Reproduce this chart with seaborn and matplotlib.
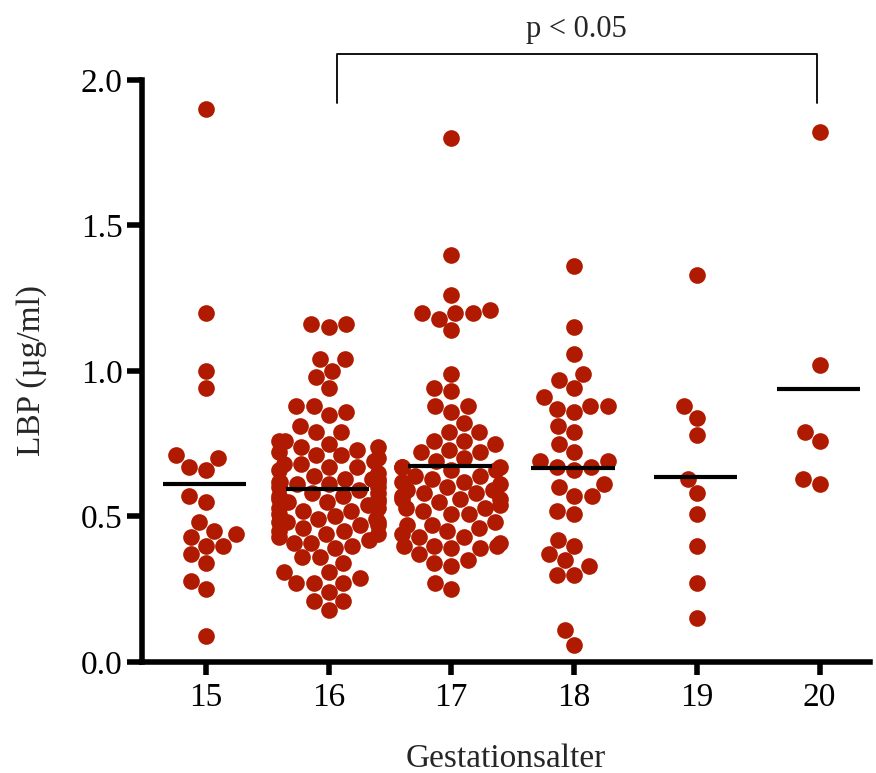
import warnings
import pandas as pd
import numpy as np
import matplotlib
matplotlib.use("Agg")
import matplotlib.pyplot as plt
import seaborn as sns

warnings.filterwarnings("ignore")

# --- Daten ---
WEEKS = ["15", "16", "17", "18", "19", "20"]

lbp_15 = [1.90, 1.20, 1.00, 0.94, 0.70, 0.71, 0.67, 0.66, 0.57, 0.55, 0.48,
          0.45, 0.44, 0.43, 0.40, 0.40, 0.37, 0.34, 0.28, 0.25, 0.09]

lbp_16 = [1.16, 1.15, 1.16, 1.04, 1.04, 1.00, 0.98, 0.94, 0.88, 0.88, 0.86,
          0.85, 0.81, 0.79, 0.76, 0.79, 0.76, 0.75, 0.74, 0.72, 0.71, 0.71,
          0.69, 0.67, 0.67, 0.65, 0.62, 0.62, 0.63, 0.63, 0.60, 0.58, 0.57,
          0.55, 0.55, 0.53, 0.52, 0.51, 0.48, 0.48, 0.49, 0.47, 0.45, 0.44,
          0.44, 0.39, 0.40, 0.41, 0.36, 0.36, 0.34, 0.31, 0.31, 0.29, 0.27,
          0.27, 0.27, 0.24, 0.21, 0.21, 0.18,
          0.74, 0.73, 0.70, 0.68, 0.68, 0.66, 0.64, 0.63, 0.61, 0.61, 0.60,
          0.59, 0.58, 0.57, 0.56, 0.56, 0.54, 0.53, 0.52, 0.50, 0.49, 0.48,
          0.47, 0.46, 0.45, 0.43, 0.42, 0.41, 0.62, 0.55]

lbp_17 = [1.80, 1.40, 1.26, 1.20, 1.20, 1.21, 1.20, 1.18, 1.14, 0.99, 0.94,
          0.93, 0.88, 0.88, 0.86, 0.82, 0.79, 0.79, 0.76, 0.75, 0.73, 0.76,
          0.72, 0.72, 0.67, 0.67, 0.67, 0.64, 0.64, 0.66, 0.66, 0.61, 0.58,
          0.59, 0.57, 0.56, 0.56, 0.56, 0.53, 0.53, 0.52, 0.51, 0.51, 0.48,
          0.47, 0.46, 0.47, 0.45, 0.44, 0.43, 0.43, 0.40, 0.40, 0.41, 0.40,
          0.39, 0.39, 0.37, 0.35, 0.34, 0.33, 0.27, 0.25,
          0.70, 0.69, 0.62, 0.60, 0.59, 0.55, 0.62, 0.58, 0.54, 0.63]

lbp_18 = [1.36, 1.15, 1.06, 0.99, 0.97, 0.94, 0.91, 0.88, 0.88, 0.87, 0.86,
          0.81, 0.79, 0.75, 0.72, 0.69, 0.69, 0.67, 0.67, 0.66, 0.61, 0.60,
          0.57, 0.57, 0.52, 0.51, 0.42, 0.40, 0.37, 0.35, 0.33, 0.30, 0.30,
          0.11, 0.06]

lbp_19 = [1.33, 0.88, 0.84, 0.78, 0.63, 0.58, 0.51, 0.40, 0.27, 0.15]

lbp_20 = [1.82, 1.02, 0.79, 0.76, 0.61, 0.63]

RED = "#B01A00"

groups = [lbp_15, lbp_16, lbp_17, lbp_18, lbp_19, lbp_20]
df = pd.concat(
    [pd.DataFrame({"woche": w, "lbp": vals}) for w, vals in zip(WEEKS, groups)],
    ignore_index=True,
)

sns.set_style("ticks")
plt.rcParams["font.family"] = ["Liberation Serif", "DejaVu Serif"]

fig = plt.figure(figsize=(8.76, 7.73), dpi=100)
ax = fig.add_axes([0.162, 0.1436, 0.831, 0.753])

sns.swarmplot(data=df, x="woche", y="lbp", order=WEEKS, color=RED,
              size=12, linewidth=0, ax=ax, zorder=2)

# Mittelwert-Linien
means = df.groupby("woche")["lbp"].mean().reindex(WEEKS)
for i, m in enumerate(means):
    ax.hlines(m, i - 0.35, i + 0.33, color="black", lw=3, zorder=3)

ax.set_xlim(-0.52, 5.41)
ax.set_ylim(0, 2.0)
ax.set_yticks([0.0, 0.5, 1.0, 1.5, 2.0])
ax.set_yticklabels(["0.0", "0.5", "1.0", "1.5", "2.0"])

sns.despine(ax=ax)
for side in ["left", "bottom"]:
    ax.spines[side].set_linewidth(4)
    ax.spines[side].set_color("black")

ax.tick_params(axis="y", length=11, width=4, pad=3, labelsize=24, colors="black")
ax.tick_params(axis="x", length=9, width=4, pad=6, labelsize=24, colors="black")

ax.set_xlabel("Gestationsalter", fontsize=24, labelpad=22)
ax.set_ylabel("LBP (µg/ml)", fontsize=24, labelpad=24)

# Signifikanz-Klammer 16 vs 20
ax.plot([1.07, 1.07, 4.98, 4.98], [1.92, 2.09, 2.09, 1.92], color="black",
        lw=1.3, clip_on=False)
ax.text(3.02, 2.125, "p < 0.05", ha="center", va="bottom", fontsize=22)

fig.savefig("out.png", dpi=100)
plt.close()
